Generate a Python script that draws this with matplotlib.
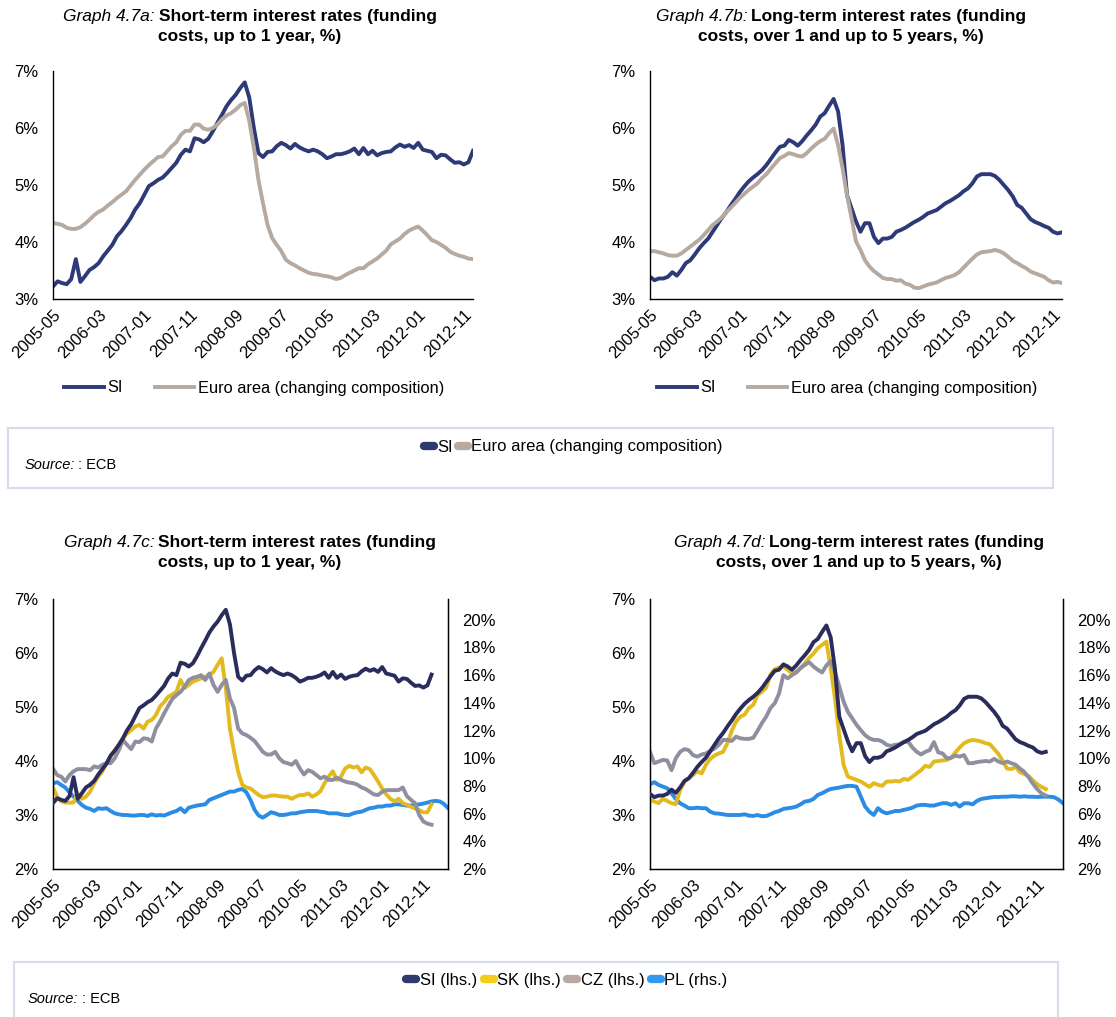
import numpy as np
import matplotlib
matplotlib.use('Agg')
import matplotlib.pyplot as plt
from matplotlib.lines import Line2D
from matplotlib.patches import Rectangle
from matplotlib.ticker import FuncFormatter

plt.rcParams['font.family'] = ['Liberation Sans', 'DejaVu Sans']

# x axis: monthly observations starting 2005-05
tick_labels = ['2005-05', '2006-03', '2007-01', '2007-11', '2008-09',
               '2009-07', '2010-05', '2011-03', '2012-01', '2012-11']
tick_pos = [0, 10, 20, 30, 40, 50, 60, 70, 80, 90]

# short-term funding costs (up to 1 year), 2005-05 .. 2013-01
si_short = [3.22, 3.31, 3.28, 3.26, 3.35, 3.70, 3.30, 3.40, 3.51, 3.56,
            3.63, 3.75, 3.85, 3.95, 4.10, 4.19, 4.30, 4.42, 4.57, 4.68,
            4.83, 4.98, 5.03, 5.09, 5.13, 5.21, 5.30, 5.39, 5.53, 5.62,
            5.59, 5.82, 5.80, 5.75, 5.81, 5.94, 6.09, 6.23, 6.38, 6.49,
            6.58, 6.70, 6.80, 6.53, 6.00, 5.56, 5.49, 5.58, 5.59, 5.68,
            5.74, 5.70, 5.64, 5.72, 5.66, 5.62, 5.59, 5.62, 5.59, 5.54,
            5.47, 5.50, 5.54, 5.54, 5.56, 5.59, 5.64, 5.54, 5.65, 5.54,
            5.60, 5.52, 5.56, 5.58, 5.59, 5.66, 5.71, 5.67, 5.70, 5.65,
            5.74, 5.62, 5.60, 5.58, 5.47, 5.53, 5.52, 5.45, 5.39, 5.40,
            5.36, 5.40, 5.60]
ea_short = [4.33, 4.32, 4.30, 4.25, 4.23, 4.23, 4.26, 4.32, 4.39, 4.47,
            4.53, 4.57, 4.64, 4.70, 4.77, 4.83, 4.89, 4.99, 5.09, 5.18,
            5.27, 5.35, 5.42, 5.49, 5.50, 5.59, 5.68, 5.75, 5.88, 5.95,
            5.95, 6.06, 6.06, 5.99, 5.97, 6.00, 6.06, 6.15, 6.22, 6.26,
            6.32, 6.40, 6.44, 6.12, 5.65, 5.09, 4.68, 4.30, 4.07, 3.95,
            3.84, 3.69, 3.63, 3.59, 3.54, 3.50, 3.46, 3.44, 3.43, 3.41,
            3.40, 3.38, 3.35, 3.37, 3.42, 3.46, 3.50, 3.54, 3.54, 3.61,
            3.66, 3.71, 3.78, 3.85, 3.96, 4.01, 4.06, 4.14, 4.20, 4.24,
            4.27, 4.20, 4.12, 4.03, 4.00, 3.95, 3.90, 3.83, 3.79, 3.76,
            3.74, 3.71, 3.70]

# long-term funding costs (over 1 and up to 5 years)
si_long = [3.39, 3.33, 3.36, 3.36, 3.39, 3.47, 3.41, 3.51, 3.63, 3.68,
           3.78, 3.89, 3.98, 4.06, 4.18, 4.30, 4.42, 4.52, 4.64, 4.75,
           4.87, 4.97, 5.06, 5.13, 5.19, 5.26, 5.35, 5.46, 5.57, 5.67,
           5.69, 5.79, 5.75, 5.69, 5.77, 5.87, 5.96, 6.06, 6.20, 6.26,
           6.39, 6.51, 6.29, 5.70, 4.82, 4.59, 4.36, 4.18, 4.33, 4.33,
           4.09, 3.98, 4.06, 4.06, 4.09, 4.18, 4.21, 4.25, 4.30, 4.35,
           4.39, 4.44, 4.50, 4.53, 4.56, 4.62, 4.68, 4.72, 4.77, 4.82,
           4.89, 4.94, 5.03, 5.15, 5.19, 5.19, 5.19, 5.16, 5.09, 5.00,
           4.91, 4.80, 4.65, 4.60, 4.50, 4.40, 4.35, 4.32, 4.28, 4.25,
           4.18, 4.15, 4.17]
ea_long = [3.84, 3.84, 3.82, 3.80, 3.77, 3.76, 3.76, 3.80, 3.86, 3.92,
           3.98, 4.04, 4.12, 4.21, 4.30, 4.36, 4.43, 4.52, 4.60, 4.68,
           4.77, 4.84, 4.91, 4.97, 5.03, 5.12, 5.19, 5.29, 5.38, 5.47,
           5.51, 5.56, 5.54, 5.51, 5.50, 5.56, 5.64, 5.71, 5.77, 5.81,
           5.91, 5.99, 5.70, 5.29, 4.82, 4.42, 4.01, 3.86, 3.68, 3.57,
           3.49, 3.43, 3.37, 3.35, 3.35, 3.32, 3.33, 3.27, 3.25, 3.20,
           3.19, 3.22, 3.25, 3.27, 3.29, 3.33, 3.37, 3.39, 3.42, 3.47,
           3.55, 3.63, 3.71, 3.78, 3.82, 3.83, 3.84, 3.86, 3.84, 3.80,
           3.74, 3.67, 3.63, 3.58, 3.54, 3.48, 3.45, 3.42, 3.39, 3.33,
           3.29, 3.30, 3.28]

# peer countries, short-term (SK, CZ on lhs; PL on rhs, to 2013-05)
sk_short = [3.51, 3.34, 3.25, 3.23, 3.23, 3.23, 3.40, 3.30, 3.34, 3.43,
            3.59, 3.71, 3.81, 3.96, 4.08, 4.20, 4.30, 4.42, 4.51, 4.57,
            4.64, 4.67, 4.60, 4.73, 4.76, 4.85, 5.01, 5.09, 5.19, 5.23,
            5.28, 5.50, 5.35, 5.41, 5.47, 5.50, 5.53, 5.56, 5.59, 5.65,
            5.78, 5.90, 5.35, 4.60, 4.17, 3.80, 3.56, 3.51, 3.49, 3.43,
            3.37, 3.33, 3.34, 3.36, 3.36, 3.35, 3.34, 3.34, 3.30, 3.34,
            3.37, 3.37, 3.40, 3.34, 3.38, 3.44, 3.59, 3.71, 3.81, 3.65,
            3.71, 3.86, 3.91, 3.88, 3.90, 3.79, 3.88, 3.85, 3.74, 3.62,
            3.49, 3.38, 3.30, 3.25, 3.30, 3.22, 3.19, 3.15, 3.12, 3.09,
            3.05, 3.05, 3.20]
cz_short = [3.86, 3.74, 3.71, 3.62, 3.74, 3.81, 3.85, 3.85, 3.85, 3.83,
            3.90, 3.88, 3.93, 3.96, 3.96, 4.05, 4.20, 4.39, 4.30, 4.22,
            4.36, 4.35, 4.42, 4.41, 4.36, 4.60, 4.73, 4.88, 5.02, 5.15,
            5.22, 5.28, 5.38, 5.50, 5.54, 5.56, 5.59, 5.50, 5.62, 5.41,
            5.28, 5.41, 5.50, 5.16, 4.98, 4.60, 4.51, 4.48, 4.43, 4.37,
            4.27, 4.17, 4.12, 4.12, 4.17, 4.05, 3.98, 3.96, 3.93, 4.00,
            3.86, 3.75, 3.83, 3.80, 3.74, 3.68, 3.71, 3.65, 3.65, 3.69,
            3.65, 3.62, 3.60, 3.59, 3.56, 3.51, 3.48, 3.43, 3.38, 3.37,
            3.43, 3.46, 3.46, 3.46, 3.46, 3.51, 3.35, 3.28, 3.22, 3.00,
            2.88, 2.84, 2.82]
pl_short = [8.19, 8.27, 8.07, 7.88, 7.54, 7.23, 6.92, 6.63, 6.43, 6.34,
            6.19, 6.39, 6.34, 6.39, 6.19, 6.02, 5.95, 5.90, 5.90, 5.86,
            5.86, 5.90, 5.90, 5.83, 5.95, 5.86, 5.90, 5.86, 5.98, 6.10,
            6.19, 6.39, 6.10, 6.43, 6.51, 6.58, 6.63, 6.67, 6.99, 7.11,
            7.23, 7.35, 7.47, 7.59, 7.59, 7.71, 7.78, 7.54, 6.99, 6.27,
            5.86, 5.71, 5.90, 6.10, 6.02, 5.90, 5.90, 5.95, 6.02, 6.02,
            6.10, 6.14, 6.19, 6.19, 6.19, 6.14, 6.10, 6.02, 6.02, 6.02,
            5.95, 5.90, 5.90, 6.02, 6.10, 6.14, 6.27, 6.39, 6.43, 6.51,
            6.51, 6.58, 6.58, 6.67, 6.67, 6.63, 6.58, 6.58, 6.63, 6.67,
            6.72, 6.80, 6.88, 6.92, 6.88, 6.70, 6.40]

# peer countries, long-term
sk_long = [3.28, 3.25, 3.22, 3.30, 3.26, 3.22, 3.20, 3.46, 3.62, 3.68,
           3.74, 3.81, 3.77, 3.93, 4.04, 4.10, 4.14, 4.17, 4.33, 4.56,
           4.73, 4.82, 4.86, 4.98, 5.04, 5.22, 5.28, 5.36, 5.60, 5.70,
           5.73, 5.75, 5.69, 5.62, 5.65, 5.72, 5.81, 5.91, 5.99, 6.09,
           6.15, 6.21, 5.72, 5.16, 4.48, 3.93, 3.71, 3.68, 3.65, 3.62,
           3.57, 3.52, 3.59, 3.56, 3.54, 3.62, 3.62, 3.63, 3.62, 3.67,
           3.65, 3.71, 3.77, 3.83, 3.91, 3.89, 3.99, 4.00, 4.01, 4.02,
           4.06, 4.16, 4.25, 4.33, 4.37, 4.39, 4.38, 4.36, 4.33, 4.31,
           4.22, 4.13, 4.00, 3.86, 3.85, 3.89, 3.79, 3.76, 3.72, 3.64,
           3.57, 3.52, 3.48]
cz_long = [4.17, 3.96, 3.99, 4.02, 4.01, 3.83, 4.05, 4.17, 4.22, 4.20,
           4.11, 4.08, 4.12, 4.14, 4.19, 4.23, 4.30, 4.39, 4.39, 4.37,
           4.45, 4.42, 4.41, 4.41, 4.43, 4.56, 4.70, 4.82, 4.98, 5.07,
           5.25, 5.59, 5.53, 5.59, 5.64, 5.72, 5.78, 5.83, 5.75, 5.69,
           5.64, 5.77, 5.85, 5.65, 5.38, 5.10, 4.91, 4.79, 4.67, 4.57,
           4.48, 4.42, 4.39, 4.39, 4.36, 4.30, 4.28, 4.30, 4.31, 4.35,
           4.36, 4.25, 4.17, 4.12, 4.17, 4.20, 4.35, 4.16, 4.14, 4.05,
           4.06, 4.10, 4.08, 4.11, 3.96, 3.96, 3.98, 3.99, 4.00, 3.99,
           4.04, 3.99, 3.96, 3.99, 3.96, 3.93, 3.86, 3.80, 3.70, 3.58,
           3.48, 3.40, 3.36]
pl_long = [8.12, 8.27, 8.07, 7.95, 7.83, 7.47, 7.06, 6.75, 6.58, 6.39,
           6.39, 6.43, 6.39, 6.39, 6.14, 6.02, 6.00, 5.95, 5.90, 5.90,
           5.90, 5.90, 5.95, 5.86, 5.83, 5.90, 5.81, 5.83, 5.95, 6.10,
           6.19, 6.34, 6.39, 6.43, 6.51, 6.67, 6.87, 6.92, 7.06, 7.35,
           7.47, 7.64, 7.78, 7.83, 7.88, 7.95, 8.00, 8.00, 7.95, 7.23,
           6.51, 6.14, 5.90, 6.39, 6.14, 6.02, 6.10, 6.19, 6.19, 6.27,
           6.34, 6.43, 6.58, 6.63, 6.63, 6.58, 6.58, 6.67, 6.75, 6.75,
           6.63, 6.75, 6.51, 6.75, 6.75, 6.67, 6.92, 7.06, 7.11, 7.16,
           7.20, 7.20, 7.22, 7.22, 7.25, 7.25, 7.22, 7.25, 7.22, 7.22,
           7.20, 7.22, 7.22, 7.22, 7.18, 7.00, 6.75]

# colours
c_si = '#2E3A78'
c_ea = '#B6A99F'
c_si2 = '#2A2D5C'
c_sk = '#E3BA1E'
c_cz = '#8F8F9F'
c_pl = '#2B8CE3'

W, H = 1116, 1017
fig = plt.figure(figsize=(W / 100, H / 100), dpi=100)


def fx(px):
    return px / W


def fy(py):
    return 1 - py / H


def add_ax(x0, x1, y0, y1):
    return fig.add_axes([fx(x0), fy(y1), fx(x1 - x0), (y1 - y0) / H])


pct = FuncFormatter(lambda v, p: f'{v:.0f}%')
tick_fs = 12


def style_ax(ax, n, lo, hi, right=False):
    ax.set_xlim(0, n)
    ax.set_ylim(lo, hi)
    ax.set_yticks(range(lo, int(hi) + 1))
    ax.yaxis.set_major_formatter(pct)
    ax.set_xticks(tick_pos)
    ax.set_xticklabels(tick_labels, rotation=45, ha='right', rotation_mode='anchor')
    ax.tick_params(length=0, labelsize=tick_fs, colors='#000000')
    ax.tick_params(axis='y', pad=10.5)
    ax.tick_params(axis='x', pad=6)
    ax.spines['top'].set_visible(False)
    ax.spines['right'].set_visible(right)
    for s in ax.spines.values():
        s.set_linewidth(1.0)


def right_axis(ax2):
    ax2.set_ylim(2, 21.5)
    ax2.set_yticks(range(2, 21, 2))
    ax2.yaxis.set_major_formatter(pct)
    ax2.tick_params(length=0, labelsize=tick_fs, pad=10.5)
    ax2.spines['top'].set_visible(False)


def mixed_title(xc, y, lead, bold, line2, size=12.5):
    r = fig.canvas.get_renderer()
    t1 = fig.text(0, fy(y), lead, style='italic', fontsize=size, va='center')
    t2 = fig.text(0, fy(y), bold, weight='bold', fontsize=size, va='center')
    w1 = t1.get_window_extent(r).width + 4
    w2 = t2.get_window_extent(r).width
    x0 = xc - (w1 + w2) / 2
    t1.set_x(fx(x0))
    t2.set_x(fx(x0 + w1))
    fig.text(fx(xc), fy(y + 20), line2, weight='bold', fontsize=size,
             ha='center', va='center')


def source_text(x, y):
    r = fig.canvas.get_renderer()
    t = fig.text(fx(x), fy(y), 'Source:', style='italic', fontsize=10.5, va='center')
    w = t.get_window_extent(r).width
    fig.text(fx(x + w + 3), fy(y), ': ECB', fontsize=10.5, va='center')


lw = 2.8
xs = np.arange(len(si_short))
leg_kw = dict(loc='center', bbox_transform=fig.transFigure, ncol=2, frameon=False,
              fontsize=11.8, handlelength=2.4, handletextpad=0.2, columnspacing=2.0)

# ---- Graph 4.7a
ax_a = add_ax(53, 473, 71, 299)
ax_a.plot(xs, si_short, color=c_si, lw=lw, label='SI')
ax_a.plot(xs, ea_short, color=c_ea, lw=lw, label='Euro area (changing composition)')
style_ax(ax_a, 92, 3, 7)
mixed_title(250, 17, 'Graph 4.7a:', 'Short-term interest rates (funding',
            'costs, up to 1 year, %)')
ax_a.legend(bbox_to_anchor=(fx(254), fy(388)), **leg_kw)

# ---- Graph 4.7b
ax_b = add_ax(650, 1062, 71, 299)
ax_b.plot(xs, si_long, color=c_si, lw=lw, label='SI')
ax_b.plot(xs, ea_long, color=c_ea, lw=lw, label='Euro area (changing composition)')
style_ax(ax_b, 92, 3, 7)
mixed_title(841, 17, 'Graph 4.7b:', 'Long-term interest rates (funding',
            'costs, over 1 and up to 5 years, %)')
ax_b.legend(bbox_to_anchor=(fx(847), fy(388)), **leg_kw)

# ---- box with legend + source (top)
fig.patches.append(Rectangle((fx(8), fy(488)), fx(1045), (488 - 428) / H,
                             transform=fig.transFigure, fill=False,
                             edgecolor='#D5DCEA', lw=1.5))
box_h = [Line2D([], [], color='#2E3A6E', lw=6, solid_capstyle='round'),
         Line2D([], [], color='#B8AAA2', lw=6, solid_capstyle='round')]
fig.legend(box_h, ['SI', 'Euro area (changing composition)'], loc='center',
           bbox_to_anchor=(fx(573), fy(447)), ncol=2, frameon=False,
           handlelength=0.6, handletextpad=0.2, columnspacing=0.3,
           prop={'size': 12})
source_text(25, 465)

# ---- Graph 4.7c
xl = np.arange(len(pl_short))
ax_c = add_ax(53, 448, 599, 869)
ax_c2 = ax_c.twinx()
ax_c2.plot(xl, pl_short, color=c_pl, lw=lw)
ax_c.plot(xs, si_short, color=c_si2, lw=lw, zorder=3)
ax_c.plot(xs, sk_short, color=c_sk, lw=lw, zorder=2)
ax_c.plot(xs, cz_short, color=c_cz, lw=lw, zorder=2)
ax_c.set_zorder(ax_c2.get_zorder() + 1)
ax_c.patch.set_visible(False)
style_ax(ax_c, 96, 2, 7, right=True)
right_axis(ax_c2)
mixed_title(250, 543, 'Graph 4.7c:', 'Short-term interest rates (funding',
            'costs, up to 1 year, %)')

# ---- Graph 4.7d
ax_d = add_ax(650, 1063, 599, 869)
ax_d2 = ax_d.twinx()
ax_d2.plot(xl, pl_long, color=c_pl, lw=lw)
ax_d.plot(xs, si_long, color=c_si2, lw=lw, zorder=3)
ax_d.plot(xs, sk_long, color=c_sk, lw=lw, zorder=2)
ax_d.plot(xs, cz_long, color=c_cz, lw=lw, zorder=2)
ax_d.set_zorder(ax_d2.get_zorder() + 1)
ax_d.patch.set_visible(False)
style_ax(ax_d, 96, 2, 7, right=True)
right_axis(ax_d2)
mixed_title(859, 543, 'Graph 4.7d:', 'Long-term interest rates (funding',
            'costs, over 1 and up to 5 years, %)')

# ---- box with legend + source (bottom)
fig.patches.append(Rectangle((fx(14), fy(1030)), fx(1044), (1030 - 962) / H,
                             transform=fig.transFigure, fill=False,
                             edgecolor='#D5DCEA', lw=1.5, clip_on=False))
box_h2 = [Line2D([], [], color=c, lw=6, solid_capstyle='round')
          for c in ['#2E3A6E', '#F5CC1A', '#B8AAA2', '#3399F0']]
fig.legend(box_h2, ['SI (lhs.)', 'SK (lhs.)', 'CZ (lhs.)', 'PL (rhs.)'], loc='center',
           bbox_to_anchor=(fx(567), fy(980)), ncol=4, frameon=False,
           handlelength=0.6, handletextpad=0.2, columnspacing=0.4,
           prop={'size': 12})
source_text(28, 999)

fig.savefig('out.png', dpi=100, facecolor='white')
